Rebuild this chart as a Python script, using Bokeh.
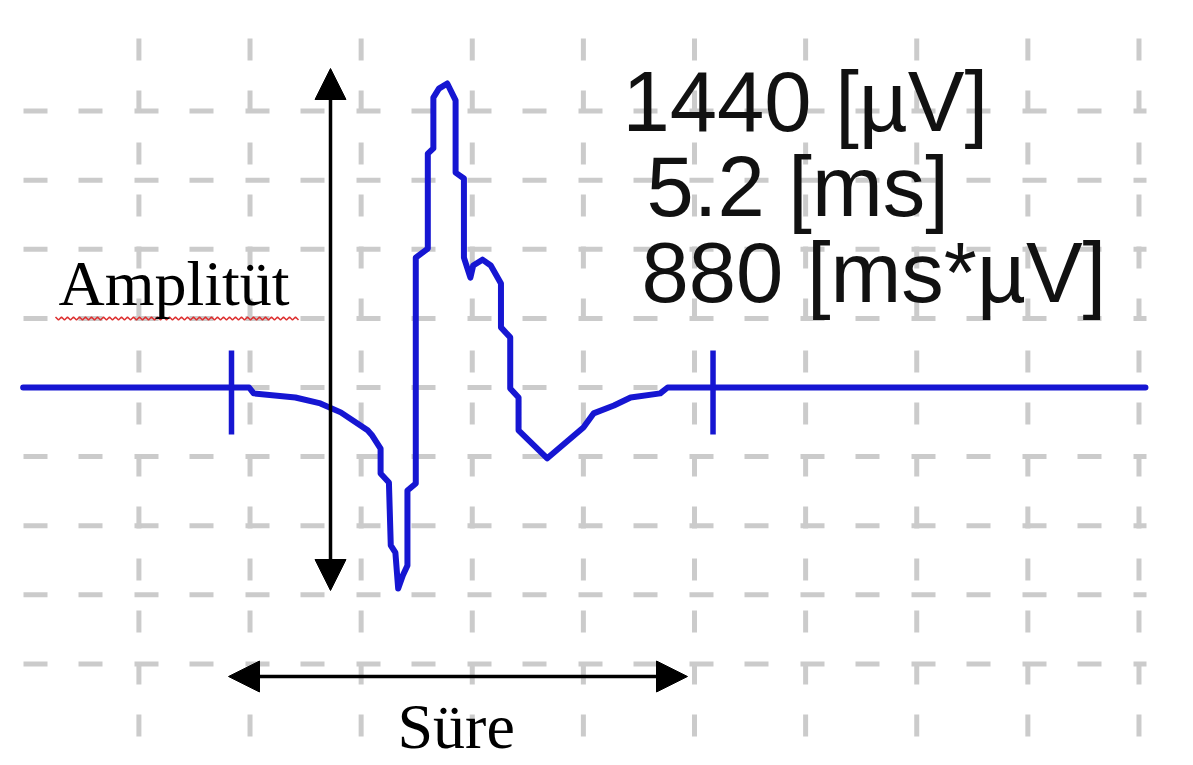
import numpy as np
from bokeh.plotting import figure
from bokeh.models import Arrow, NormalHead, Range1d
from bokeh.core.properties import value
from bokeh.embed import file_html
from bokeh.resources import INLINE

# ---------------- data ----------------
# motor unit potential trace: time [ms], amplitude [µV]
time_ms = [-2.25, 0.0, 0.19, 0.24, 0.69, 0.96, 1.18, 1.47, 1.52, 1.61, 1.61, 1.70,
           1.72, 1.77, 1.80, 1.85, 1.90, 1.90, 1.99, 1.99, 2.12, 2.12, 2.18, 2.18,
           2.24, 2.33, 2.42, 2.42, 2.51, 2.51, 2.58, 2.61, 2.71, 2.80, 2.91, 2.91,
           3.01, 3.01, 3.10, 3.10, 3.41, 3.80, 3.91, 4.13, 4.31, 4.63, 4.71, 5.2, 9.87]
amp_uV = [0, 0, 0, -17, -29, -46, -72, -124, -139, -177, -249, -275,
          -457, -478, -582, -544, -515, -298, -278, 376, 402, 677, 692, 839,
          865, 880, 831, 622, 605, 376, 318, 353, 370, 353, 301, 174,
          145, -3, -29, -124, -205, -116, -75, -52, -29, -17, 0, 0, 0]
# duration markers [ms]
marker_ms = [0.0, 5.2]
# grid lines
grid_x_ms = [-1.0, 0.2, 1.4, 2.6, 3.8, 5.0, 6.2, 7.4, 8.6, 9.8]
grid_y_uV = [800, 600, 400, 200, 0, -200, -400, -600, -800]
# texts
result_lines = ["1440 [µV]", "5.2 [ms]", "880 [ms*µV]"]
amp_label = "Amplitüt"
dur_label = "Süre"

# ---------------- layout ----------------
W, H = 1193, 765
PX_PER_MS = 92.6
PX_PER_UV = 69.1 / 200.0
X0_PX, Y0_PX = 231.0, 387.0   # page pixel of (0 ms, 0 µV)
BASE_FIX = 0.37               # baseline correction (fraction of font size)


def X(px):
    return (px - X0_PX) / PX_PER_MS


def Y(py):
    return (Y0_PX - py) / PX_PER_UV


p = figure(width=W, height=H, output_backend="svg", toolbar_location=None,
           x_range=Range1d(X(0), X(W)), y_range=Range1d(Y(H), Y(0)),
           x_axis_location=None, y_axis_location=None, min_border=0,
           background_fill_color="white", border_fill_color="white")
p.grid.visible = False
p.outline_line_color = None

GRID_COLOR = "#cbcbcb"
# horizontal dashed grid rows
gx0, gx1 = X(23), X(1146)
p.segment(x0=[gx0] * len(grid_y_uV), y0=grid_y_uV, x1=[gx1] * len(grid_y_uV), y1=grid_y_uV,
          line_color=GRID_COLOR, line_width=5, line_dash="24 31 24 32")
# vertical dashed grid columns (drawn top to bottom)
gy0, gy1 = Y(38), Y(741)
p.segment(x0=grid_x_ms, y0=[gy0] * len(grid_x_ms), x1=grid_x_ms, y1=[gy1] * len(grid_x_ms),
          line_color=GRID_COLOR, line_width=5, line_dash="22 30")

BLUE = "#1616d2"
p.line(time_ms, amp_uV, line_color=BLUE, line_width=6, line_join="round", line_cap="round")
p.segment(x0=marker_ms, y0=[Y(350)] * 2, x1=marker_ms, y1=[Y(434)] * 2,
          line_color=BLUE, line_width=5.5)

# arrows
for (xs, ys, xe, ye) in [(X(330), Y(590), X(330), Y(68)), (X(228), Y(676), X(687), Y(676))]:
    p.add_layout(Arrow(start=NormalHead(size=31, fill_color="black", line_color="black", line_width=1),
                       end=NormalHead(size=31, fill_color="black", line_color="black", line_width=1),
                       x_start=xs, y_start=ys, x_end=xe, y_end=ye,
                       line_color="black", line_width=3.5))

# red spell-check squiggle under "Amplitüt"
sq_px = np.arange(55, 300, 3)
sq_py = np.where(np.arange(len(sq_px)) % 2 == 0, 316.5, 319.5)
p.line(X(sq_px), Y(sq_py), line_color="#dd3030", line_width=1.5)

# serif labels
FS_SERIF = 64
p.text(x=[X(58), X(397)],
       y=[Y(307 - BASE_FIX * FS_SERIF), Y(750 - BASE_FIX * FS_SERIF)],
       text=[amp_label, dur_label],
       text_font=value("Liberation Serif"), text_font_size=value(f"{FS_SERIF}px"),
       text_color="black", text_align="left", text_baseline="alphabetic")

# result texts
FS_SANS = 85
p.text(x=[X(622), X(646), X(641)],
       y=[Y(132 - BASE_FIX * FS_SANS), Y(217 - BASE_FIX * FS_SANS), Y(303 - BASE_FIX * FS_SANS)],
       text=result_lines,
       text_font=value("Liberation Sans"), text_font_size=value(f"{FS_SANS}px"),
       text_color="#111111", text_align="left", text_baseline="alphabetic")

open("out.html", "w").write(file_html(p, INLINE))
